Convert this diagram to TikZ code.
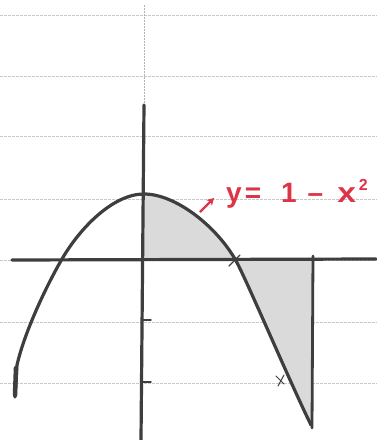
\documentclass[tikz,border=0pt]{standalone}
\usepackage{fontspec}
\setmainfont{Liberation Sans}
\usetikzlibrary{arrows.meta}
\definecolor{pencil}{RGB}{62,62,62}
\definecolor{rulegray}{RGB}{200,200,200}
\definecolor{fillgray}{RGB}{218,218,218}
\definecolor{redink}{RGB}{222,52,72}
\begin{document}
\begin{tikzpicture}[x=1pt,y=-1pt,
  ruleline/.style={rulegray,line width=0.8pt,dash pattern=on 3pt off 1pt},
  pencilline/.style={pencil,line width=3.2pt,line cap=round,line join=round},
  thinpencil/.style={pencil,line width=1.4pt,line cap=round},
  redarrow/.style={redink,line width=2.4pt,-{Stealth[length=7pt,width=8pt]}}]
\useasboundingbox (0,0) rectangle (377,440);
\fill[white] (0,0) rectangle (377,440);
% ruled paper lines
\foreach \yy in {15,76,136,199,260,322,383}
  \draw[ruleline] (0,\yy) -- (377,\yy);
% key points of the curve
\coordinate (vx) at (144,194);
\coordinate (rl) at (62,259);
\coordinate (rr) at (235,259);
\coordinate (el) at (17,365);
\coordinate (er) at (311,425);
% shaded regions
\fill[fillgray] (144,260) -- (vx) .. controls (175,194) and (215,225) .. (rr) -- (235,260) -- cycle;
\fill[fillgray] (235,260) -- (rr) .. controls (245,276) and (288,378) .. (er) -- (312,425) -- (312,260) -- cycle;
% faint top of y-axis
\draw[rulegray!70!gray,line width=1pt,dash pattern=on 2pt off 1pt] (144,5) -- (144,105);
% axes
\coordinate (ytop) at (144,105);
\coordinate (ybot) at (141,440);
\coordinate (xl) at (12,260);
\coordinate (xr) at (376,259);
\draw[pencilline] (ytop) -- (ybot);
\draw[pencilline] (xl) -- (xr);
% ticks on y-axis
\draw[thinpencil] (142,320) -- (151,320);
\draw[thinpencil] (141,382) -- (151,382);
% vertical line at right bound
\coordinate (vt) at (313,256);
\coordinate (vb) at (312,428);
\draw[pencilline,line width=2.8pt] (vt) -- (vb);
% parabola
\draw[pencilline] (15,397) -- (el) .. controls (25,330) and (48,283) .. (rl)
  .. controls (80,228) and (113,194) .. (vx)
  .. controls (175,194) and (215,225) .. (rr)
  .. controls (245,276) and (288,378) .. (er);
\draw[pencil,line width=4.5pt,line cap=round] (16,368) -- (15,395);
% small pencil marks
\draw[thinpencil] (229,266) -- (240,255);
\draw[thinpencil,line width=1pt] (276,376) -- (284,384) (284,375) -- (278,386);
% red label and arrow
\node[redink,anchor=base west,inner sep=0pt,font=\bfseries\fontsize{28}{30}\selectfont] (lab) at (226,202) {y\hspace{3pt}=\hspace{20pt}1\hspace{11pt}–\hspace{14pt}\scalebox{1.2}[1]{x}\hspace{3pt}\raisebox{12pt}{\fontsize{16}{16}\selectfont 2}};
\coordinate (arrs) at (200,212);
\coordinate (arre) at (214,198);
\draw[redarrow] (arrs) -- (arre);
\end{tikzpicture}
\end{document}
